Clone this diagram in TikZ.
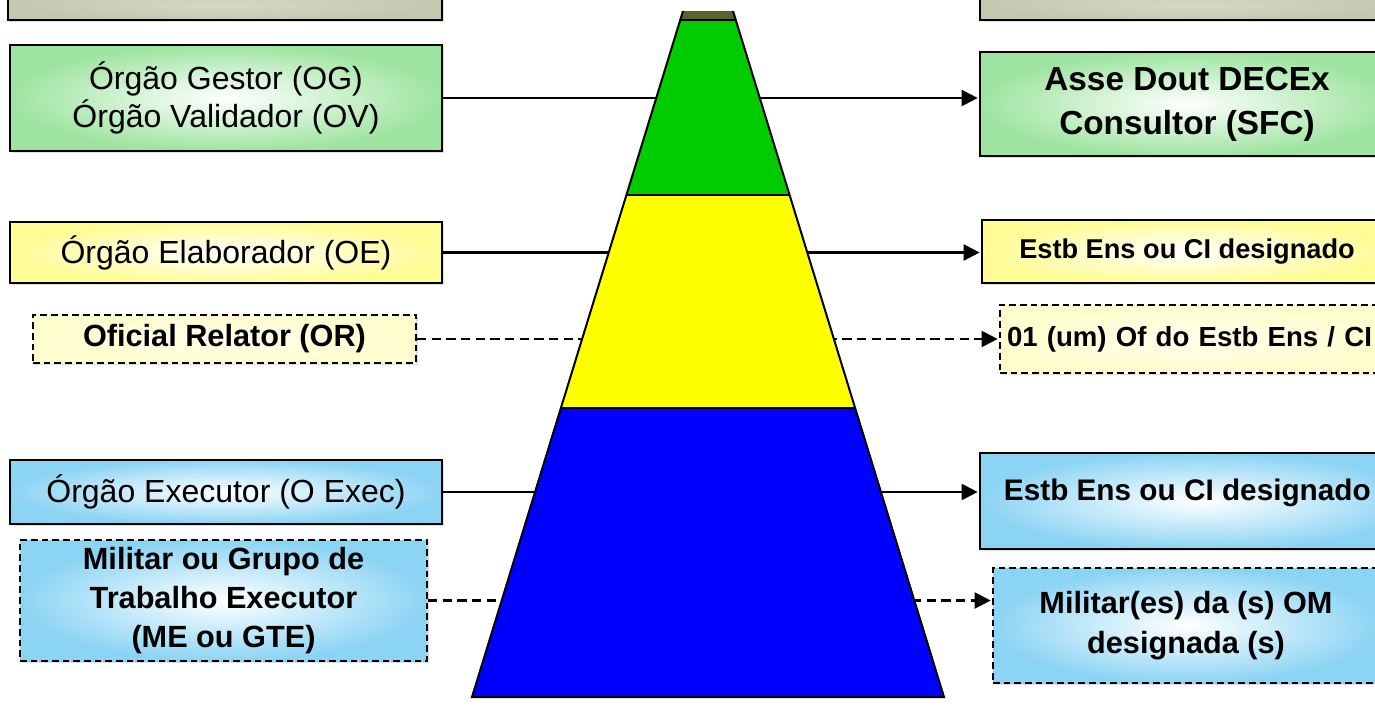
\documentclass[tikz,border=0pt]{standalone}
\usepackage{fontspec}
\setmainfont{Liberation Sans}
\usetikzlibrary{arrows.meta,shadows}
\definecolor{boxgreen}{RGB}{158,228,160}
\definecolor{boxyellow}{RGB}{255,252,150}
\definecolor{paleyellow}{RGB}{255,253,205}
\definecolor{boxblue}{RGB}{140,212,244}
\definecolor{boxgray}{RGB}{196,200,176}
\definecolor{pyrolive}{RGB}{88,98,42}
\definecolor{pyrgreen}{RGB}{0,204,0}
\definecolor{pyryellow}{RGB}{255,255,0}
\definecolor{pyrblue}{RGB}{0,0,255}
\begin{document}
\begin{tikzpicture}[x=0.75pt,y=-0.75pt,
  box/.style={draw=black, line width=1.5pt, shading=radial, inner color=white,
    align=center, inner sep=0pt,
    drop shadow={shadow xshift=1.5pt, shadow yshift=-1.5pt, opacity=0.25}},
  dbox/.style={box, dash pattern=on 5pt off 3pt},
  greenbox/.style={box, outer color=boxgreen},
  yellowbox/.style={box, outer color=boxyellow},
  paleybox/.style={dbox, outer color=paleyellow, inner color=white!60!paleyellow},
  bluebox/.style={box, outer color=boxblue},
  dbluebox/.style={dbox, outer color=boxblue},
  graybox/.style={box, outer color=boxgray, inner color=boxgray!70!white},
  lfont/.style={font=\fontsize{24}{28.5}\selectfont},
  conn/.style={line width=1.6pt, shorten >=1pt, -{Triangle[length=12pt,width=12pt]}},
  dconn/.style={conn, dash pattern=on 7pt off 4pt},
  pyredge/.style={line width=1.5pt, line join=miter}
]
\useasboundingbox (0,0) rectangle (1375,714);
\clip (0,0) rectangle (1375,714);

% boxes on the left
\node[graybox, minimum width=325.5pt, minimum height=22.5pt] (topl) at (225,5) {};
\node[greenbox, lfont, minimum width=324pt, minimum height=79.5pt] (og) at (226,98)
  {Órgão Gestor (OG)\\Órgão Validador (OV)};
\node[yellowbox, lfont, minimum width=324pt, minimum height=45.75pt] (oe) at (226,252.5)
  {Órgão Elaborador (OE)};
\node[paleybox, font=\bfseries\fontsize{23}{27}\selectfont, minimum width=287.25pt, minimum height=36pt] (or) at (224.5,339)
  {Oficial Relator (OR)};
\node[bluebox, lfont, minimum width=324pt, minimum height=48pt] (oex) at (226,492)
  {Órgão Executor (O Exec)};
\node[dbluebox, font=\bfseries\fontsize{23}{29}\selectfont, minimum width=305.25pt, minimum height=90.75pt] (me) at (223.5,600.5)
  {Militar ou Grupo de\\Trabalho Executor\\(ME ou GTE)};

% boxes on the right
\node[graybox, minimum width=315pt, minimum height=22.5pt] (topr) at (1190,5) {};
\node[greenbox, font=\bfseries\fontsize{25}{33}\selectfont, minimum width=310.5pt, minimum height=78pt] (ad) at (1187,104)
  {Asse Dout DECEx\\Consultor (SFC)};
\node[yellowbox, font=\bfseries\fontsize{20.4}{24}\selectfont, minimum width=307.5pt, minimum height=47.25pt] (ey) at (1187,251.5)
  {Estb Ens ou CI designado};
\node[paleybox, font=\bfseries\fontsize{20.7}{24}\selectfont, minimum width=292.5pt, minimum height=51pt,
  inner xsep=5.25pt, text width=282pt, align=left] (od) at (1195,339)
  {01 (um) Of do Estb Ens / CI};
\node[bluebox, minimum width=330pt, minimum height=72pt] (eb) at (1200,501) {};
\node[font=\bfseries\fontsize{22.3}{28}\selectfont, inner sep=0pt, anchor=east] (ebtext) at (1371,493)
  {Estb Ens ou CI designado};
\node[dbluebox, font=\bfseries\fontsize{23}{30}\selectfont, minimum width=289.5pt, minimum height=86.25pt] (mil) at (1186,625.5)
  {Militar(es) da (s) OM\\designada (s)};

% connectors, passing behind the pyramid
\draw[conn] (og.east) -- (og.east -| ad.west);
\draw[conn] (oe.east) -- (oe.east -| ey.west);
\draw[dconn] (or.east) -- (or.east -| od.west);
\draw[conn] (oex.east) -- (oex.east -| eb.west);
\draw[dconn] (me.east) -- (me.east -| mil.west);

% pyramid bands
\fill[pyrolive]  (683,11) -- (733,11) -- (736.07,20) -- (679.93,20) -- cycle;
\fill[pyrgreen]  (679.93,20) -- (736.07,20) -- (789.82,195) -- (626.18,195) -- cycle;
\fill[pyryellow] (626.18,195) -- (789.82,195) -- (855.24,408) -- (560.76,408) -- cycle;
\fill[pyrblue]   (560.76,408) -- (855.24,408) -- (944,697) -- (472,697) -- cycle;
\draw[pyredge] (683,11) -- (472,697) -- (944,697) -- (733,11);
\draw[pyredge] (679.93,20) -- (736.07,20);
\draw[pyredge] (626.18,195) -- (789.82,195);
\draw[pyredge] (560.76,408) -- (855.24,408);
\end{tikzpicture}
\end{document}
